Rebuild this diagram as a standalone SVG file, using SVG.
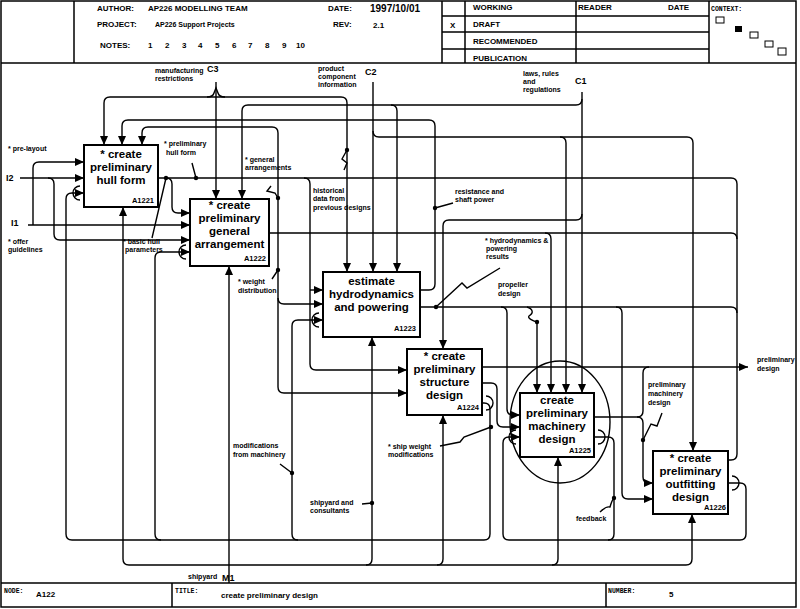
<svg xmlns="http://www.w3.org/2000/svg" width="800" height="609" viewBox="0 0 800 609">
<defs>
<style>
.ln{fill:none;stroke:#000;stroke-width:1.4}
.ar{marker-end:url(#ah)}
.as{marker-start:url(#ah)}
.bx{fill:#fff;stroke:#000;stroke-width:2}
.fr{fill:none;stroke:#000;stroke-width:1.5}
.t{font-family:"Liberation Sans",Arial,sans-serif;font-weight:bold;fill:#000}
.bt{font-size:11.5px;text-anchor:middle}
.id{font-size:7.5px;text-anchor:end}
.lb{font-size:7px}
.hd{font-size:8px}
.cd{font-size:9px}
.sm{font-family:"Liberation Mono",monospace;font-weight:bold;font-size:6.5px;fill:#000}
.dt{fill:#000}
</style>
<marker id="ah" viewBox="0 0 9 8" refX="9" refY="4" markerWidth="9" markerHeight="8" markerUnits="userSpaceOnUse" orient="auto-start-reverse"><path d="M0,0L9,4L0,8z"/></marker>
</defs>
<rect width="800" height="609" fill="#fff"/>
<g id="frame">
<rect class="fr" x="1" y="1" width="795" height="606"/>
<path class="fr" d="M1 63H796M74 1V63M442 1V63M465 1V63M576 1V63M709 1V63M442 16H709M442 32H709M442 49H709M1 583H796M172 583V607M606 583V607"/>
<text class="t hd" x="97" y="11">AUTHOR:</text>
<text class="t hd" x="148" y="11">AP226  MODELLING TEAM</text>
<text class="t hd" x="328" y="11">DATE:</text>
<text class="t" font-size="10" x="370" y="12">1997/10/01</text>
<text class="t hd" x="97" y="27">PROJECT:</text>
<text class="t" font-size="7" x="155" y="27">AP226 Support Projects</text>
<text class="t hd" x="333" y="27">REV:</text>
<text class="t hd" x="373" y="28">2.1</text>
<text class="t hd" x="100" y="48">NOTES:</text>
<text class="t hd" x="148" y="48">1</text><text class="t hd" x="165" y="48">2</text><text class="t hd" x="182" y="48">3</text><text class="t hd" x="198" y="48">4</text><text class="t hd" x="215" y="48">5</text><text class="t hd" x="232" y="48">6</text><text class="t hd" x="248" y="48">7</text><text class="t hd" x="265" y="48">8</text><text class="t hd" x="282" y="48">9</text><text class="t hd" x="296" y="48">10</text>
<text class="t hd" x="473" y="10">WORKING</text>
<text class="t hd" x="578" y="10">READER</text>
<text class="t hd" x="668" y="10">DATE</text>
<text class="t hd" x="450" y="28">X</text>
<text class="t hd" x="473" y="27">DRAFT</text>
<text class="t hd" x="473" y="44">RECOMMENDED</text>
<text class="t hd" x="473" y="61">PUBLICATION</text>
<text class="sm" x="711" y="11">CONTEXT:</text>
<rect x="716" y="17" width="8" height="6" fill="#fff" stroke="#000" stroke-width="1"/>
<rect x="735" y="26" width="7" height="6" fill="#000"/>
<rect x="750" y="32" width="8" height="6" fill="#fff" stroke="#000" stroke-width="1"/>
<rect x="765" y="41" width="8" height="6" fill="#fff" stroke="#000" stroke-width="1"/>
<rect x="778" y="48" width="8" height="7" fill="#fff" stroke="#000" stroke-width="1"/>
<text class="sm" x="4" y="593">NODE:</text>
<text class="t hd" x="36" y="597">A122</text>
<text class="sm" x="175" y="593">TITLE:</text>
<text class="t hd" x="221" y="598">create preliminary design</text>
<text class="sm" x="608" y="593">NUMBER:</text>
<text class="t hd" x="669" y="597">5</text>
</g>
<g id="connectors">
<path class="ln ar" d="M216 82V199"/>
<path class="ln ar as" d="M104 145V103Q104 97 110 97H341Q347 97 347 103V272"/>
<path class="ln" d="M207 97Q213 97 214 93L216 88L218 93Q219 97 225 97"/>
<path class="ln ar" d="M582 92V393"/>
<path class="ln as" d="M242 199V111Q242 105 248 105H576Q582 105 582 99"/>
<path class="ln ar" d="M391 105Q397 105 397 111V272"/>
<path class="ln ar" d="M582 214Q582 220 576 220H449Q443 220 443 226V349"/>
<path class="ln ar" d="M373 82V272"/>
<path class="ln ar" d="M373 131Q373 137 379 137H687Q693 137 693 143V451"/>
<path class="ln ar" d="M560 137Q566 137 566 143V393"/>
<path class="ln ar" d="M420 290H429Q435 290 435 284V126Q435 120 429 120H128Q122 120 122 126V145"/>
<path class="ln ar as" d="M142 145V133Q142 127 148 127H272Q278 127 278 133V387Q278 393 284 393H407"/>
<path class="ln ar" d="M278 298Q278 304 284 304H323"/>
<path class="ln" d="M269 233H731Q737 233 737 239"/>
<path class="ln ar" d="M545 233Q551 233 551 239V393"/>
<path class="ln" d="M158 178H731Q737 178 737 184V454Q737 460 731 460H728"/>
<path class="ln ar" d="M304 178Q310 178 310 184V364Q310 370 316 370H407"/>
<path class="ln ar" d="M310 290H323"/>
<path class="ln ar" d="M166 178Q172 178 172 184V207Q172 213 178 213H190"/>
<path class="ln ar" d="M28 225H190"/>
<path class="ln ar" d="M33 225V168Q33 162 39 162H84"/>
<path class="ln ar" d="M20 178H84"/>
<path class="ln ar" d="M48 178Q54 178 54 184V234Q54 240 60 240H190"/>
<path class="ln ar as" d="M123 207V559Q123 565 129 565H686Q692 565 692 559V514"/>
<path class="ln ar" d="M229 583V266"/>
<path class="ln ar" d="M366 565Q372 565 372 559V337"/>
<path class="ln ar" d="M437 565Q443 565 443 559V415"/>
<path class="ln ar" d="M552 565Q558 565 558 559V457"/>
<path class="ln ar" d="M482 403H484Q490 403 490 409V534Q490 540 484 540H72Q66 540 66 534V199Q66 193 72 193H84"/>
<path class="ln ar" d="M161 540Q155 540 155 534V258Q155 252 161 252H190"/>
<path class="ln ar" d="M298 540Q292 540 292 534V326Q292 320 298 320H323"/>
<path class="ln ar" d="M728 483H740Q746 483 746 489V534Q746 540 740 540H509Q503 540 503 534V443Q503 437 509 437H520"/>
<path class="ln" d="M594 437H608Q614 437 614 443V534Q614 540 608 540"/>
<path class="ln" d="M420 307H731Q737 307 737 313"/>
<path class="ln ar" d="M501 307Q507 307 507 313V409Q507 415 513 415H520"/>
<path class="ln ar" d="M616 307Q622 307 622 313V493Q622 499 628 499H653"/>
<path class="ln ar" d="M527 307C533 309 534 313 529 316C527 318 533 321 537 322V393"/>
<path class="ln ar" d="M482 367H748"/>
<path class="ln ar" d="M482 383H491Q497 383 497 389V421Q497 427 503 427H520"/>
<path class="ln" d="M594 417H637Q643 417 643 411V373Q643 367 649 367"/>
<path class="ln ar" d="M637 417Q643 417 643 423V477Q643 483 649 483H653"/>
<path class="ln" d="M80 186A7 7 0 0 0 80 200M186 245A7 7 0 0 0 186 259M319 313A7 7 0 0 0 319 327M516 430A7 7 0 0 0 516 444M486 396A7 7 0 0 1 486 410M598 430A7 7 0 0 1 598 444M732 476A7 7 0 0 1 732 490"/>
<path class="ln" stroke-width="1" d="M192 163L196 178M152 238L166 178M271 186L267 191L275 193L278 198M272 279L278 270M347 150L342 159L347 163L344 170M453 203L435 208M500 268L467 288L462 283L436 307M280 464L292 473M362 504L372 503M440 446L460 442L464 437L491 427M600 512Q606 506 610 507Q612 500 614 498M662 413L657 426L651 424L647 432L643 440"/>
<g class="dt"><circle cx="166" cy="178" r="2.2"/><circle cx="196" cy="178" r="2.2"/><circle cx="278" cy="198" r="2.2"/><circle cx="278" cy="270" r="2.2"/><circle cx="347" cy="150" r="2.2"/><circle cx="435" cy="208" r="2.2"/><circle cx="436" cy="307" r="2.2"/><circle cx="537" cy="322" r="2.2"/><circle cx="292" cy="473" r="2.2"/><circle cx="372" cy="503" r="2.2"/><circle cx="491" cy="427" r="2.2"/><circle cx="614" cy="498" r="2.2"/><circle cx="643" cy="440" r="2.2"/></g>
<ellipse cx="560" cy="422" rx="50" ry="61" fill="none" stroke="#000" stroke-width="1.4"/>
</g>
<g id="labels">
<text class="t lb" x="155" y="73">manufacturing</text><text class="t lb" x="155" y="81">restrictions</text><text class="t cd" x="207" y="72">C3</text>
<text class="t lb" x="318" y="71">product</text><text class="t lb" x="318" y="79">component</text><text class="t lb" x="318" y="87">information</text><text class="t cd" x="365" y="75">C2</text>
<text class="t lb" x="523" y="76">laws, rules</text><text class="t lb" x="523" y="84">and</text><text class="t lb" x="523" y="92">regulations</text><text class="t cd" x="575" y="84">C1</text>
<text class="t lb" x="8" y="151">* pre-layout</text>
<text class="t cd" x="6" y="181">I2</text>
<text class="t cd" x="11" y="226">I1</text>
<text class="t lb" x="8" y="244">* offer</text><text class="t lb" x="8" y="252">guidelines</text>
<text class="t lb" x="164" y="146">* preliminary</text><text class="t lb" x="166" y="155">hull form</text>
<text class="t lb" x="123" y="244">* basic hull</text><text class="t lb" x="125" y="252">parameters</text>
<text class="t lb" x="245" y="162">* general</text><text class="t lb" x="245" y="170">arrangements</text>
<text class="t lb" x="313" y="193">historical</text><text class="t lb" x="313" y="201">data from</text><text class="t lb" x="313" y="210">previous designs</text>
<text class="t lb" x="455" y="194">resistance and</text><text class="t lb" x="455" y="202">shaft power</text>
<text class="t lb" x="485" y="243">* hydrodynamics &amp;</text><text class="t lb" x="486" y="251">powering</text><text class="t lb" x="486" y="259">results</text>
<text class="t lb" x="498" y="287">propeller</text><text class="t lb" x="498" y="296">design</text>
<text class="t lb" x="238" y="284">* weight</text><text class="t lb" x="238" y="293">distribution</text>
<text class="t lb" x="233" y="448">modifications</text><text class="t lb" x="233" y="457">from machinery</text>
<text class="t lb" x="310" y="505">shipyard and</text><text class="t lb" x="310" y="513">consultants</text>
<text class="t lb" x="388" y="449">* ship weight</text><text class="t lb" x="388" y="457">modifications</text>
<text class="t lb" x="648" y="387">preliminary</text><text class="t lb" x="648" y="396">machinery</text><text class="t lb" x="648" y="405">design</text>
<text class="t lb" x="576" y="521">feedback</text>
<text class="t lb" x="757" y="362">preliminary</text><text class="t lb" x="757" y="371">design</text>
<text class="t lb" x="188" y="579">shipyard</text><text class="t cd" x="222" y="581">M1</text>
</g>
<g id="A1221"><rect class="bx" x="84" y="145" width="74" height="62"/><text class="t bt" x="121" y="158">* create</text><text class="t bt" x="121" y="171">preliminary</text><text class="t bt" x="121" y="184">hull form</text><text class="t id" x="154" y="203">A1221</text></g>
<g id="A1222"><rect class="bx" x="190" y="199" width="79" height="67"/><text class="t bt" x="229.5" y="209">* create</text><text class="t bt" x="229.5" y="222">preliminary</text><text class="t bt" x="229.5" y="235">general</text><text class="t bt" x="229.5" y="248">arrangement</text><text class="t id" x="266" y="261">A1222</text></g>
<g id="A1223"><rect class="bx" x="323" y="272" width="97" height="65"/><text class="t bt" x="371.5" y="285">estimate</text><text class="t bt" x="371.5" y="298">hydrodynamics</text><text class="t bt" x="371.5" y="311">and powering</text><text class="t id" x="416" y="331">A1223</text></g>
<g id="A1224"><rect class="bx" x="407" y="349" width="75" height="66"/><text class="t bt" x="444.5" y="360">* create</text><text class="t bt" x="444.5" y="373">preliminary</text><text class="t bt" x="444.5" y="386">structure</text><text class="t bt" x="444.5" y="399">design</text><text class="t id" x="479" y="410">A1224</text></g>
<g id="A1225"><rect class="bx" x="520" y="393" width="74" height="64"/><text class="t bt" x="557" y="404">create</text><text class="t bt" x="557" y="417">preliminary</text><text class="t bt" x="557" y="430">machinery</text><text class="t bt" x="557" y="443">design</text><text class="t id" x="591" y="453">A1225</text></g>
<g id="A1226"><rect class="bx" x="653" y="451" width="75" height="63"/><text class="t bt" x="690.5" y="462">* create</text><text class="t bt" x="690.5" y="475">preliminary</text><text class="t bt" x="690.5" y="488">outfitting</text><text class="t bt" x="690.5" y="501">design</text><text class="t id" x="726" y="510">A1226</text></g>
</svg>
